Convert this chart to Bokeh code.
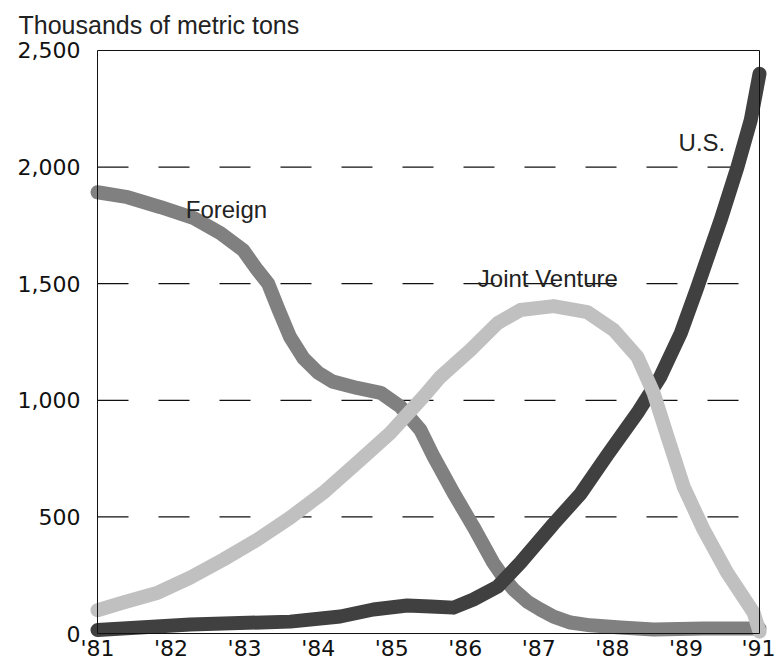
from bokeh.plotting import figure
from bokeh.models import Range1d, FixedTicker, NumeralTickFormatter, Label
from bokeh.embed import file_html
from bokeh.resources import INLINE

# ---------------- data ----------------
# x positions are year slots: 0 = '81 ... 9 = last slot (labelled '91)
year_slots = [0, 1, 2, 3, 4, 5, 6, 7, 8, 9]
year_labels = ["'81", "'82", "'83", "'84", "'85", "'86", "'87", "'88", "'89", "'91"]
y_ticks = [0, 500, 1000, 1500, 2000, 2500]
grid_levels = [500, 1000, 1500, 2000]

foreign_t = [0, 0.41, 0.86, 1.31, 1.67, 1.98, 2.17, 2.32, 2.46, 2.62, 2.80, 3.00,
             3.20, 3.53, 3.85, 4.12, 4.39, 4.57, 4.84, 5.11, 5.38, 5.52, 5.66,
             5.85, 6.02, 6.20, 6.43, 6.70, 7.11, 7.56, 8.24, 9.0]
foreign_v = [1892, 1871, 1828, 1781, 1717, 1644, 1560, 1500, 1390, 1270, 1180, 1118,
             1080, 1053, 1032, 972, 873, 758, 603, 458, 304, 240, 188,
             135, 103, 72, 47, 35, 26, 17, 22, 22]

us_t = [0, 1.26, 2.62, 3.30, 3.75, 4.21, 4.53, 4.84, 5.11, 5.44, 5.75, 6.20,
        6.57, 6.93, 7.34, 7.65, 7.93, 8.15, 8.47, 8.70, 8.88, 9.0]
us_v = [15, 39, 51, 73, 103, 120, 116, 111, 146, 201, 304, 470,
        600, 765, 946, 1100, 1288, 1480, 1772, 2000, 2200, 2400]

jv_t = [0, 0.35, 0.82, 1.26, 1.71, 2.17, 2.62, 3.07, 3.53, 3.98, 4.43, 4.66,
        5.07, 5.44, 5.75, 6.20, 6.66, 7.02, 7.34, 7.56, 7.75, 7.97, 8.24,
        8.56, 8.92, 9.0]
jv_v = [100, 133, 175, 240, 317, 402, 497, 604, 732, 860, 1015, 1100,
        1216, 1331, 1387, 1404, 1378, 1301, 1186, 1032, 843, 629, 445,
        261, 90, 8]

series_names = ["Foreign", "Joint Venture", "U.S."]

# ---------------- layout ----------------
W, H = 775, 663
B_LEFT, B_RIGHT, B_TOP, B_BOTTOM = 86, 4, 45, 19
frame_w = W - B_LEFT - B_RIGHT
frame_h = H - B_TOP - B_BOTTOM
pad_l, pad_r = 11, 12        # px between frame edge and the drawn box
pad_t, pad_b = 5, 10
x_scale = (frame_w - pad_l - pad_r) / (year_slots[-1] - year_slots[0])
y_scale = (frame_h - pad_t - pad_b) / (y_ticks[-1] - y_ticks[0])

p = figure(width=W, height=H, output_backend="svg", toolbar_location=None,
           x_range=Range1d(year_slots[0] - pad_l / x_scale, year_slots[-1] + pad_r / x_scale),
           y_range=Range1d(y_ticks[0] - pad_b / y_scale, y_ticks[-1] + pad_t / y_scale),
           min_border_left=B_LEFT, min_border_right=B_RIGHT,
           min_border_top=B_TOP, min_border_bottom=B_BOTTOM)
p.outline_line_color = None
p.grid.visible = False
p.background_fill_color = "white"
p.border_fill_color = "white"

# title
p.title.text = "Thousands of metric tons"
p.title.text_font = "Liberation Sans"
p.title.text_font_size = "25px"
p.title.text_font_style = "normal"
p.title.text_color = "#222222"
p.title.align = "left"
p.title.offset = -68
p.title.standoff = 13

# axes
for ax in (p.xaxis[0], p.yaxis[0]):
    ax.axis_line_color = None
    ax.major_tick_line_color = None
    ax.minor_tick_line_color = None
    ax.major_tick_in = 0
    ax.major_tick_out = 0
    ax.major_label_text_font = "DejaVu Sans"
    ax.major_label_text_font_size = "22px"
    ax.major_label_text_color = "#111111"

p.xaxis.ticker = FixedTicker(ticks=year_slots)
p.xaxis.major_label_overrides = {s: lab for s, lab in zip(year_slots, year_labels)}
p.xaxis.major_label_standoff = -8
p.yaxis.ticker = FixedTicker(ticks=y_ticks)
p.yaxis.formatter = NumeralTickFormatter(format="0,0")
p.yaxis.major_label_standoff = 6

# dashed grid
p.segment(x0=[year_slots[0]] * len(grid_levels), y0=grid_levels,
          x1=[year_slots[-1]] * len(grid_levels), y1=grid_levels,
          line_color="#111111", line_width=1.2, line_dash="31 30")

# curves (drawing order: Foreign, U.S., Joint Venture on top)
LW = 14
p.line(foreign_t, foreign_v, line_color="#808080", line_width=LW,
       line_cap="round", line_join="round")
p.line(us_t, us_v, line_color="#404040", line_width=LW,
       line_cap="round", line_join="round")
p.line(jv_t, jv_v, line_color="#c0c0c0", line_width=LW,
       line_cap="round", line_join="round")

# box
p.quad(left=[year_slots[0]], right=[year_slots[-1]], bottom=[y_ticks[0]], top=[y_ticks[-1]],
       fill_color=None, line_color="#111111", line_width=1)

# series labels
label_pos = {"Foreign": (1.2, 1820), "Joint Venture": (5.17, 1524), "U.S.": (7.9, 2106)}
for name in series_names:
    lx, ly = label_pos[name]
    p.add_layout(Label(x=lx, y=ly, text=name, text_font="Liberation Sans",
                       text_font_size="24px", text_color="#222222",
                       text_align="left", text_baseline="alphabetic"))

open("out.html", "w").write(file_html(p, INLINE))
